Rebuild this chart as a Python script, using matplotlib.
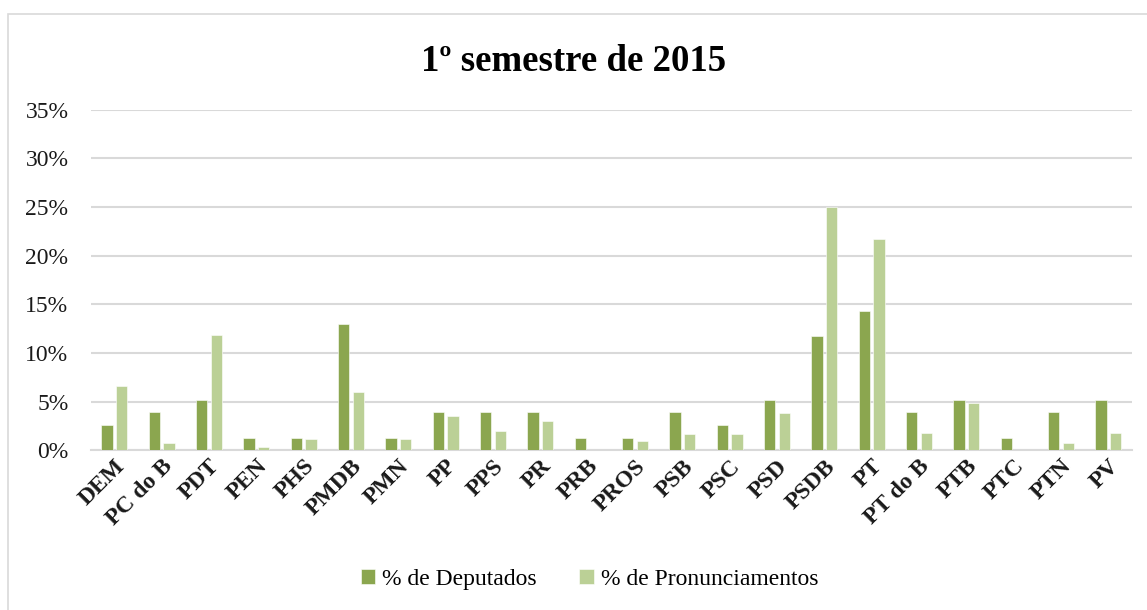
import numpy as np
import matplotlib
matplotlib.use('Agg')
import matplotlib.pyplot as plt
import matplotlib.ticker as tkr
from matplotlib.patches import Rectangle

plt.rcParams['font.family'] = ['Liberation Serif', 'DejaVu Serif']

# data
partidos = ['DEM', 'PC do B', 'PDT', 'PEN', 'PHS', 'PMDB', 'PMN', 'PP', 'PPS', 'PR',
            'PRB', 'PROS', 'PSB', 'PSC', 'PSD', 'PSDB', 'PT', 'PT do B', 'PTB', 'PTC',
            'PTN', 'PV']
deputados = [2.6, 3.9, 5.2, 1.3, 1.3, 13.0, 1.3, 3.9, 3.9, 3.9,
             1.3, 1.3, 3.9, 2.6, 5.2, 11.7, 14.3, 3.9, 5.2, 1.3,
             3.9, 5.2]
pronunciamentos = [6.6, 0.7, 11.8, 0.35, 1.1, 6.0, 1.1, 3.5, 1.95, 3.0,
                   0.0, 0.9, 1.65, 1.65, 3.85, 25.0, 21.7, 1.75, 4.8, 0.0,
                   0.75, 1.8]

COR_DEP = '#8BA64F'
COR_PRON = '#BBD096'

fig = plt.figure(figsize=(11.47, 6.10), dpi=100)
ax = fig.add_axes([0.079, 0.262, 0.908, 0.558])

x = np.arange(len(partidos))
w = 0.24
ax.bar(x - w / 2 - 0.035, deputados, width=w, color=COR_DEP, edgecolor='white',
       linewidth=0.4, label='% de Deputados', zorder=3)
ax.bar(x + w / 2 + 0.035, pronunciamentos, width=w, color=COR_PRON, edgecolor='white',
       linewidth=0.4, label='% de Pronunciamentos', zorder=3)

ax.set_xlim(-0.5, len(partidos) - 0.5)
ax.set_ylim(0, 35)
ax.yaxis.set_major_locator(tkr.MultipleLocator(5))
ax.yaxis.set_major_formatter(tkr.FuncFormatter(lambda v, p: '%d%%' % v))
ax.grid(axis='y', color='#d9d9d9', linewidth=1.5, zorder=0)
for s in ['top', 'right', 'left']:
    ax.spines[s].set_visible(False)
ax.spines['bottom'].set_color('#d9d9d9')
ax.spines['bottom'].set_linewidth(1.5)
ax.tick_params(length=0, labelsize=17, colors='#1a1a1a')
ax.tick_params(axis='y', pad=16)

ax.set_xticks(x)
ax.set_xticklabels(partidos, rotation=45, ha='right', rotation_mode='anchor',
                   fontweight='bold', fontsize=17)
ax.tick_params(axis='x', pad=4)

fig.suptitle('1º semestre de 2015', x=0.5, y=0.928, fontsize=26.5, fontweight='bold')

leg = ax.legend(loc='center', bbox_to_anchor=(0.514, 0.05), bbox_transform=fig.transFigure,
                ncol=2, frameon=False, fontsize=17, handlelength=0.6, handleheight=0.6,
                handletextpad=0.3, columnspacing=1.8)

# frame round the chart (right and bottom edges fall outside the picture)
fig.patches.append(Rectangle((0.007, -0.02), 1.0, 0.997, transform=fig.transFigure,
                             fill=False, edgecolor='#d9d9d9', linewidth=1.2))

fig.savefig('out.png', dpi=100)
